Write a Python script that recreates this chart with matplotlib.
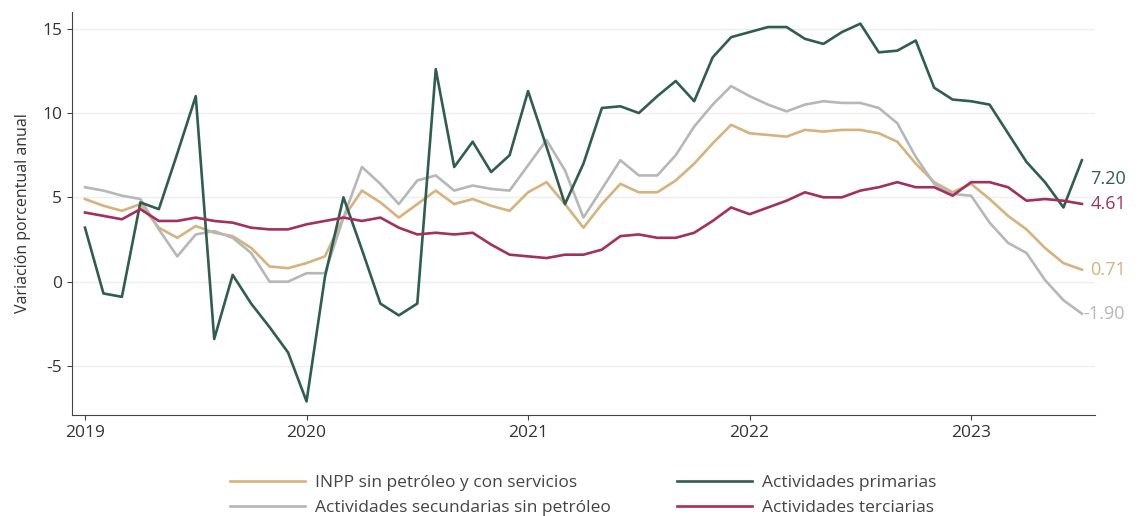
import matplotlib.pyplot as plt
import numpy as np

# Meses: enero 2019 a julio 2023
years = ['2019', '2020', '2021', '2022', '2023']

inpp = [4.9, 4.5, 4.2, 4.6, 3.2, 2.6, 3.3, 2.9, 2.7, 2.0, 0.9, 0.8,
        1.1, 1.5, 3.8, 5.4, 4.7, 3.8, 4.6, 5.4, 4.6, 4.9, 4.5, 4.2,
        5.3, 5.9, 4.6, 3.2, 4.6, 5.8, 5.3, 5.3, 6.0, 7.0, 8.2, 9.3,
        8.8, 8.7, 8.6, 9.0, 8.9, 9.0, 9.0, 8.8, 8.3, 7.0, 5.9, 5.3,
        5.8, 4.9, 3.9, 3.1, 2.0, 1.1, 0.71]

primarias = [3.2, -0.7, -0.9, 4.7, 4.3, 7.6, 11.0, -3.4, 0.4, -1.3, -2.7, -4.2,
             -7.1, 0.3, 5.0, 1.9, -1.3, -2.0, -1.3, 12.6, 6.8, 8.3, 6.5, 7.5,
             11.3, 8.0, 4.6, 7.0, 10.3, 10.4, 10.0, 11.0, 11.9, 10.7, 13.3, 14.5,
             14.8, 15.1, 15.1, 14.4, 14.1, 14.8, 15.3, 13.6, 13.7, 14.3, 11.5, 10.8,
             10.7, 10.5, 8.8, 7.1, 5.9, 4.4, 7.20]

secundarias = [5.6, 5.4, 5.1, 4.9, 3.1, 1.5, 2.8, 3.0, 2.6, 1.7, 0.0, 0.0,
               0.5, 0.5, 3.8, 6.8, 5.8, 4.6, 6.0, 6.3, 5.4, 5.7, 5.5, 5.4,
               6.9, 8.4, 6.6, 3.8, 5.5, 7.2, 6.3, 6.3, 7.5, 9.2, 10.5, 11.6,
               11.0, 10.5, 10.1, 10.5, 10.7, 10.6, 10.6, 10.3, 9.4, 7.4, 5.8, 5.2,
               5.1, 3.5, 2.3, 1.7, 0.1, -1.1, -1.90]

terciarias = [4.1, 3.9, 3.7, 4.3, 3.6, 3.6, 3.8, 3.6, 3.5, 3.2, 3.1, 3.1,
              3.4, 3.6, 3.8, 3.6, 3.8, 3.2, 2.8, 2.9, 2.8, 2.9, 2.2, 1.6,
              1.5, 1.4, 1.6, 1.6, 1.9, 2.7, 2.8, 2.6, 2.6, 2.9, 3.6, 4.4,
              4.0, 4.4, 4.8, 5.3, 5.0, 5.0, 5.4, 5.6, 5.9, 5.6, 5.6, 5.1,
              5.9, 5.9, 5.6, 4.8, 4.9, 4.8, 4.61]

c_inpp = '#d6b27c'
c_prim = '#2f5e4e'
c_sec = '#b7b7ba'
c_ter = '#a3305c'

plt.rcParams['font.family'] = ['Open Sans', 'DejaVu Sans']
plt.rcParams['axes.unicode_minus'] = False

x = np.arange(len(inpp))

fig = plt.figure(figsize=(11.44, 5.16), dpi=100)
ax = fig.add_axes([0.063, 0.196, 0.894, 0.781])

ax.plot(x, inpp, color=c_inpp, lw=1.9, label='INPP sin petróleo y con servicios')
ax.plot(x, secundarias, color=c_sec, lw=1.9, label='Actividades secundarias sin petróleo')
ax.plot(x, primarias, color=c_prim, lw=1.9, label='Actividades primarias')
ax.plot(x, terciarias, color=c_ter, lw=1.9, label='Actividades terciarias')

# etiquetas finales
last = len(x) - 1
ax.annotate(f'{primarias[-1]:.2f}', (last, 6.1), xytext=(6, 0), textcoords='offset points',
            color=c_prim, fontsize=13, va='center')
ax.annotate(f'{terciarias[-1]:.2f}', (last, terciarias[-1]), xytext=(6, 0), textcoords='offset points',
            color=c_ter, fontsize=13, va='center')
ax.annotate(f'{inpp[-1]:.2f}', (last, inpp[-1]), xytext=(6, 0), textcoords='offset points',
            color=c_inpp, fontsize=13, va='center')
ax.annotate(f'{secundarias[-1]:.2f}', (last, secundarias[-1]), xytext=(1, 0), textcoords='offset points',
            color=c_sec, fontsize=13, va='center')

ax.set_xlim(-0.7, 54.7)
ax.set_ylim(-7.9, 16.0)
ax.set_yticks([-5, 0, 5, 10, 15])
ax.set_xticks([0, 12, 24, 36, 48])
ax.set_xticklabels(years)
ax.grid(axis='y', color='#eeeeee', lw=1)
ax.set_axisbelow(True)
for s in ['top', 'right']:
    ax.spines[s].set_visible(False)
for s in ['left', 'bottom']:
    ax.spines[s].set_color('#444444')
ax.tick_params(colors='#444444', labelsize=12.5, labelcolor='#333333')
ax.set_ylabel('Variación porcentual anual', fontsize=11.5, color='#333333', labelpad=8)

ax.legend(loc='upper center', bbox_to_anchor=(0.5, -0.11), ncol=2, frameon=False,
          fontsize=12.5, labelcolor='#444444', handlelength=4.3, columnspacing=3.8,
          handletextpad=0.6, labelspacing=0.5)

plt.savefig('out.png', dpi=100)
